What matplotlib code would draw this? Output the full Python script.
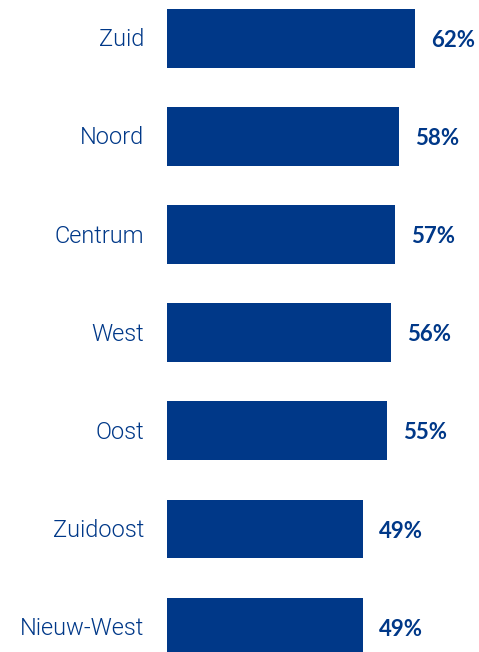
import matplotlib.pyplot as plt

# Stadsdelen en percentages
stadsdelen = ["Zuid", "Noord", "Centrum", "West", "Oost", "Zuidoost", "Nieuw-West"]
percentages = [62, 58, 57, 56, 55, 49, 49]

blauw = "#003888"

fig = plt.figure(figsize=(4.79, 6.52), dpi=100)
ax = fig.add_axes([167 / 479, 0, 1 - 167 / 479, 1])

posities = list(range(len(stadsdelen)))
ax.barh(posities, percentages, height=0.6, color=blauw)

ax.set_xlim(0, 78)
ax.set_ylim(6.254, -0.392)

for y, naam, p in zip(posities, stadsdelen, percentages):
    ax.annotate(naam, xy=(0, y), xytext=(-16.5, -1), textcoords="offset points",
                ha="right", va="center", color=blauw, fontsize=17,
                family="Roboto", fontweight=300)
    ax.annotate(f"{p}%", xy=(p, y), xytext=(11.5, -1.5), textcoords="offset points",
                ha="left", va="center", color=blauw, fontsize=16,
                family="Lato", fontweight="bold")

ax.axis("off")
fig.savefig("out.png", dpi=100)
